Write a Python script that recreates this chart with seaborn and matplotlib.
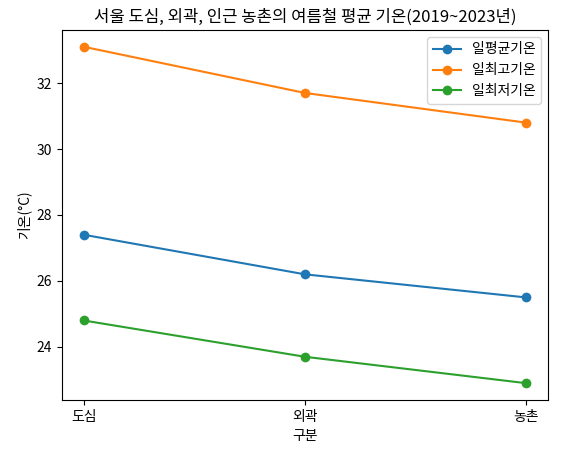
import pandas as pd
import seaborn as sns
from matplotlib import pyplot as plt

plt.rcParams['font.family'] = ['Noto Sans CJK KR', 'DejaVu Sans']
plt.rcParams['axes.unicode_minus'] = False

regions = ['도심', '외곽', '농촌']
avg_temp = [27.4, 26.2, 25.5]
max_temp = [33.1, 31.7, 30.8]
min_temp = [24.8, 23.7, 22.9]
series_names = ['일평균기온', '일최고기온', '일최저기온']

df = pd.DataFrame({'구분': regions * 3,
                   '기온': avg_temp + max_temp + min_temp,
                   '항목': [n for n in series_names for _ in regions]})

fig, ax = plt.subplots(figsize=(5.61, 4.54), dpi=100)
sns.lineplot(data=df, x='구분', y='기온', hue='항목', marker='o',
             markersize=7, markeredgewidth=0, sort=False, ax=ax,
             palette=['#1f77b4', '#ff7f0e', '#2ca02c'])
ax.set_title('서울 도심, 외곽, 인근 농촌의 여름철 평균 기온(2019~2023년)')
ax.set_xlabel('구분')
ax.set_ylabel('기온(°C)')
ax.legend(title=None, loc='upper right')
fig.subplots_adjust(left=0.11, right=0.977, top=0.934, bottom=0.119)
plt.savefig('out.png')
